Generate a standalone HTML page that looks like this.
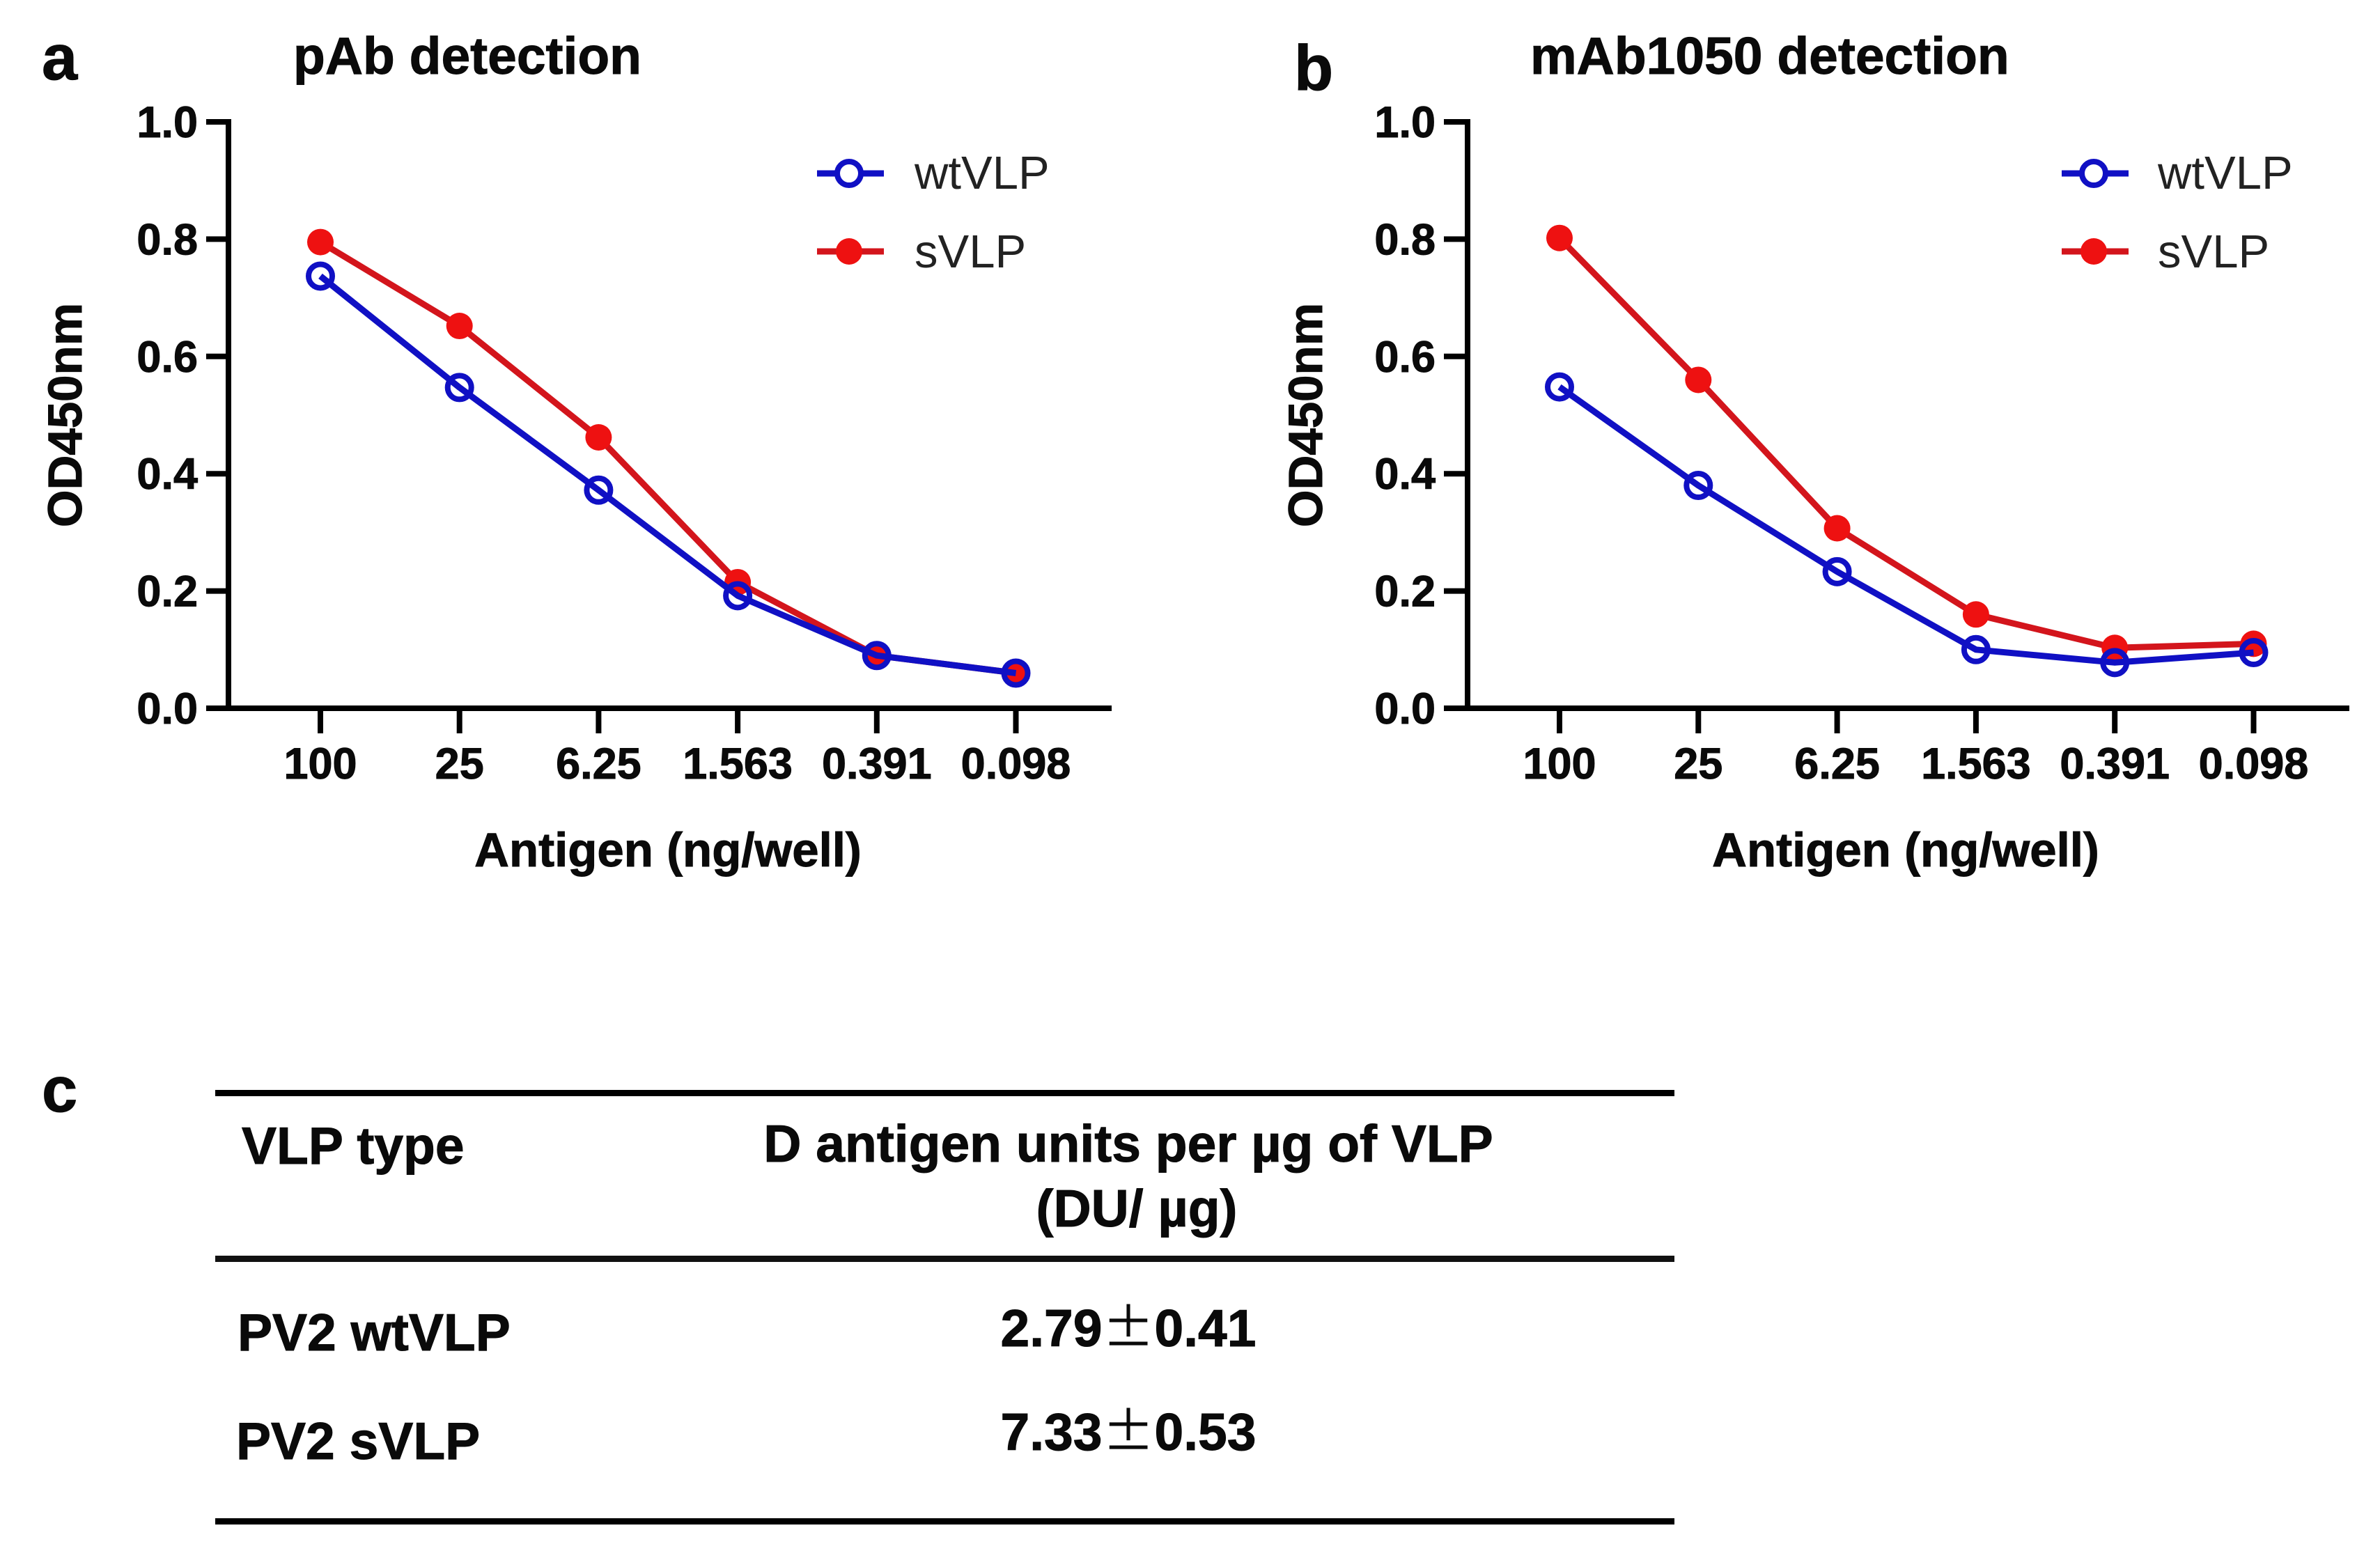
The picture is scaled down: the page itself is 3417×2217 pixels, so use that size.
<!DOCTYPE html>
<html>
<head>
<meta charset="utf-8">
<title>VLP antigen detection</title>
<style>
html,body{margin:0;padding:0;background:#fff;width:3417px;height:2217px;overflow:hidden}
svg{display:block}
text{font-family:"Liberation Sans","Noto Sans CJK SC",sans-serif;fill:#0a0a0a}
.tick,.ttl,.ax,.pl,.tb{stroke:#0a0a0a;stroke-width:1}
.tick{font-weight:700;font-size:63px}
.leg{font-size:67px;fill:#222}
.ttl{font-weight:700;font-size:75px}
.ax{font-weight:700;font-size:69px}
.pl{font-weight:700;font-size:92px}
.tb{font-weight:700;font-size:75px}
.pm{font-weight:400;stroke-width:0;font-family:"Noto Sans CJK SC",sans-serif}
</style>
</head>
<body>
<svg id="fig" xmlns="http://www.w3.org/2000/svg" width="3417" height="2217" viewBox="0 0 3417 2217">
  <rect x="0" y="0" width="3417" height="2217" fill="#fff"/>

  <text class="pl" x="60" y="114">a</text>
  <text class="ttl" x="421" y="106">pAb detection</text>
  <text class="ax" text-anchor="middle" transform="translate(117,596) rotate(-90)">OD450nm</text>
  <text class="ax" text-anchor="middle" x="959" y="1244">Antigen (ng/well)</text>
  <g id="panel-a"></g>
  <g>
    <line x1="1173" x2="1269" y1="249" y2="249" stroke="#1010c4" stroke-width="9"/>
    <circle cx="1219" cy="249" r="17" fill="#fff" stroke="#1010c4" stroke-width="8"/>
    <text class="leg" x="1313" y="271">wtVLP</text>
    <line x1="1173" x2="1269" y1="361" y2="361" stroke="#d3151c" stroke-width="9"/>
    <circle cx="1219" cy="361" r="19" fill="#ee1111"/>
    <text class="leg" x="1313" y="384">sVLP</text>
  </g>

  <text class="pl" x="1858" y="129">b</text>
  <text class="ttl" x="2197" y="106">mAb1050 detection</text>
  <text class="ax" text-anchor="middle" transform="translate(1898,596) rotate(-90)">OD450nm</text>
  <text class="ax" text-anchor="middle" x="2736" y="1244">Antigen (ng/well)</text>
  <g id="panel-b"></g>
  <g>
    <line x1="2960" x2="3056" y1="249" y2="249" stroke="#1010c4" stroke-width="9"/>
    <circle cx="3006" cy="249" r="17" fill="#fff" stroke="#1010c4" stroke-width="8"/>
    <text class="leg" x="3098" y="271">wtVLP</text>
    <line x1="2960" x2="3056" y1="361" y2="361" stroke="#d3151c" stroke-width="9"/>
    <circle cx="3006" cy="361" r="19" fill="#ee1111"/>
    <text class="leg" x="3098" y="384">sVLP</text>
  </g>

  <text class="pl" x="60" y="1596">c</text>
  <g>
    <rect x="309" y="1565" width="2095" height="9" fill="#000"/>
    <rect x="309" y="1803" width="2095" height="9" fill="#111"/>
    <rect x="309" y="2180" width="2095" height="9" fill="#000"/>
    <text class="tb" x="347" y="1671">VLP type</text>
    <text class="tb" text-anchor="middle" x="1620" y="1668">D antigen units per µg of VLP</text>
    <text class="tb" text-anchor="middle" x="1632" y="1761">(DU/ µg)</text>
    <text class="tb" x="341" y="1939">PV2 wtVLP</text>
    <text class="tb" text-anchor="middle" x="1620" y="1933">2.79<tspan class="pm">±</tspan>0.41</text>
    <text class="tb" x="339" y="2095">PV2 sVLP</text>
    <text class="tb" text-anchor="middle" x="1620" y="2082">7.33<tspan class="pm">±</tspan>0.53</text>
  </g>
</svg>
<script>
var categories = ['100', '25', '6.25', '1.563', '0.391', '0.098'];
var yTickValues = [0, 0.2, 0.4, 0.6, 0.8, 1.0];
var yTickLabels = ['0.0', '0.2', '0.4', '0.6', '0.8', '1.0'];
var panelAWt = [0.737, 0.547, 0.372, 0.192, 0.09, 0.06];
var panelAS = [0.795, 0.652, 0.462, 0.215, 0.09, 0.06];
var panelBWt = [0.548, 0.38, 0.233, 0.1, 0.078, 0.095];
var panelBS = [0.802, 0.56, 0.307, 0.16, 0.103, 0.11];

var NS = 'http://www.w3.org/2000/svg';
function mk(tag, attrs, parent) {
  var el = document.createElementNS(NS, tag);
  for (var k in attrs) { el.setAttribute(k, attrs[k]); }
  parent.appendChild(el);
  return el;
}
function drawPanel(id, prefix, geom, wt, s) {
  var root = document.getElementById(id);
  var yScale = function (v) { return geom.y0 + (geom.y1 - geom.y0) * v / 1.0; };
  var xScale = function (i) { return geom.x0 + geom.dx * i; };
  var col = { blue: '#1010c4', red: '#d3151c', dot: '#ee1111' };

  var axisY = mk('line', { x1: geom.axisX, x2: geom.axisX, y1: geom.y1 - 4, y2: geom.y0 + 4, stroke: '#000', 'stroke-width': 8 }, root);
  
  
  var axisX = mk('line', { x1: geom.axisLeft, x2: geom.axisRight, y1: geom.y0, y2: geom.y0, stroke: '#000', 'stroke-width': 8 }, root);
  
  

  yTickValues.forEach(function (v, i) {
    var y = yScale(v);
    var t = mk('line', { x1: geom.axisLeft, x2: geom.axisX, y1: y, y2: y, stroke: '#000', 'stroke-width': 8 }, root);
    
    
    var l = mk('text', { x: geom.axisLeft - 12, y: y + 22, 'text-anchor': 'end', 'class': 'tick' }, root);
    
    
    l.textContent = yTickLabels[i];
  });
  categories.forEach(function (c, i) {
    var x = xScale(i);
    var t = mk('line', { x1: x, x2: x, y1: geom.y0, y2: geom.y0 + 36, stroke: '#000', 'stroke-width': 8 }, root);
    
    
    var l = mk('text', { x: x, y: 1118, 'text-anchor': 'middle', 'class': 'tick' }, root);
    
    
    l.textContent = c;
  });

  function pts(arr) {
    return arr.map(function (v, i) { return xScale(i) + ',' + yScale(v); }).join(' ');
  }
  var sLine = mk('polyline', { points: pts(s), fill: 'none', stroke: col.red, 'stroke-width': 9, 'stroke-linejoin': 'round' }, root);
  
  
  s.forEach(function (v, i) {
    var d = mk('circle', { cx: xScale(i), cy: yScale(v), r: 19, fill: col.dot }, root);
    
    
  });
  var wLine = mk('polyline', { points: pts(wt), fill: 'none', stroke: col.blue, 'stroke-width': 9, 'stroke-linejoin': 'round' }, root);
  
  
  wt.forEach(function (v, i) {
    var d = mk('circle', { cx: xScale(i), cy: yScale(v), r: 17, fill: 'none', stroke: col.blue, 'stroke-width': 8 }, root);
    
    
  });
}
drawPanel('panel-a', 'panel-a', { x0: 460, dx: 199.7, y0: 1017, y1: 175, axisX: 328, axisLeft: 296, axisRight: 1596 }, panelAWt, panelAS);
drawPanel('panel-b', 'panel-b', { x0: 2239, dx: 199.3, y0: 1017, y1: 175, axisX: 2107, axisLeft: 2073, axisRight: 3373 }, panelBWt, panelBS);
</script>
</body>
</html>
